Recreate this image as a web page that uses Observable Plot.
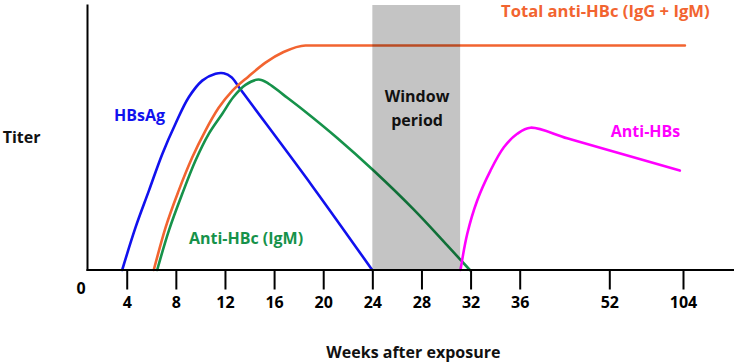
<!DOCTYPE html>
<html>
<head>
<meta charset="utf-8">
<script src="https://cdn.jsdelivr.net/npm/d3@7"></script>
<script src="https://cdn.jsdelivr.net/npm/@observablehq/plot@0.6"></script>
<style>
  html, body { margin: 0; padding: 0; background: #fff; }
  svg { display: block; }
</style>
</head>
<body>
<div id="chart"></div>
<script>
// Tick labels (weeks after exposure)
const xTicks = [4, 8, 12, 16, 20, 24, 28, 32, 36, 52, 104];

// HBsAg
const hbsagWeeks = [3.59, 4.67, 5.76, 6.85, 7.93, 9.01, 10.11, 11.19, 11.86, 12.49, 13.22, 14.31, 19.09, 23.95];
const hbsagTiter = [0, 16.0, 29.9, 43.8, 55.3, 65.3, 71.6, 74.2, 74.4, 72.9, 68.3, 61.5, 31.6, 0];

// Total anti-HBc (IgG + IgM)
const totalWeeks = [6.16, 7.12, 8.20, 9.29, 10.37, 11.46, 12.57, 13.88, 15.26, 16.73, 18.52, 105];
const totalTiter = [0, 16.0, 30.1, 42.5, 52.7, 61.4, 67.8, 73.2, 78.4, 82.4, 84.9, 84.9];

// Anti-HBc (IgM)
const igmWeeks = [6.44, 7.39, 8.48, 9.56, 10.64, 11.73, 12.65, 13.63, 14.69, 15.50, 16.73, 18.38, 21.10, 24.08, 27.34, 30.06, 31.9];
const igmTiter = [0, 14.9, 28.8, 41.4, 51.5, 59.0, 65.4, 70.0, 72.0, 70.5, 66.2, 60.3, 49.9, 37.5, 22.8, 9.3, 0];

// Anti-HBs
const antiHBsWeeks = [31.14, 31.69, 32.5, 33.58, 34.67, 35.76, 37.84, 44.39, 52, 101.4];
const antiHBsTiter = [0, 13.7, 26.3, 37.6, 46.4, 51.5, 53.8, 49.8, 45.2, 37.6];

// Window period
const windowStart = 24;
const windowEnd = 31.15;

const toRows = (ws, ts) => ws.map((w, i) => ({w, t: ts[i]}));

const FONT = "'Open Sans', Lato, sans-serif";
const C = {blue: "#1111ee", orange: "#f26430", green: "#16924a", magenta: "#ff00ff"};

const labels = [
  {w: 5.0,  t: 58.4, text: "HBsAg", color: C.blue, size: 16},
  {w: 13.67, t: 11.6, text: "Anti-HBc (IgM)", color: C.green, size: 16},
  {w: 51.2, t: 97.5, text: "Total anti-HBc (IgG + IgM)", color: C.orange, size: 16.6},
  {w: 77.2, t: 52.1, text: "Anti-HBs", color: C.magenta, size: 16},
  {w: 27.6, t: 65.3, text: "Window", color: "#111", size: 16},
  {w: 27.6, t: 56.3, text: "period", color: "#111", size: 16},
  {w: -4.6, t: 50.0, text: "Titer", color: "#111", size: 16},
  {w: 27.3, t: -31.2, text: "Weeks after exposure", color: "#111", size: 16}
];

const chart = Plot.plot({
  width: 734,
  height: 364,
  marginLeft: 87,
  marginRight: 0,
  marginTop: 5,
  marginBottom: 94.5,
  style: {fontFamily: FONT, background: "#fff"},
  x: {type: "linear", domain: [0, 36, 52, 104], range: [77.6, 519.7, 609.3, 683], axis: null},
  y: {domain: [0, 100], axis: null},
  marks: [
    Plot.line(toRows(hbsagWeeks, hbsagTiter), {x: "w", y: "t", stroke: C.blue, strokeWidth: 2.6, curve: "catmull-rom"}),
    Plot.line(toRows(totalWeeks, totalTiter), {x: "w", y: "t", stroke: C.orange, strokeWidth: 2.6, curve: "monotone-x"}),
    Plot.line(toRows(igmWeeks, igmTiter), {x: "w", y: "t", stroke: C.green, strokeWidth: 2.6, curve: "catmull-rom"}),
    Plot.line(toRows(antiHBsWeeks, antiHBsTiter), {x: "w", y: "t", stroke: C.magenta, strokeWidth: 2.6, curve: "catmull-rom"}),
    Plot.rect([{x1: windowStart, x2: windowEnd, y1: 0, y2: 100}], {x1: "x1", x2: "x2", y1: "y1", y2: "y2", fill: "black", fillOpacity: 0.23}),
    Plot.frame({anchor: "left", stroke: "black", strokeWidth: 2}),
    Plot.frame({anchor: "bottom", stroke: "black", strokeWidth: 2}),
    Plot.axisX(xTicks, {anchor: "bottom", tickSize: 20, tickPadding: 7, strokeWidth: 2, fontSize: 16, fontWeight: "bold", fill: "black", stroke: "black", label: null}),
    Plot.text([0], {x: 0, y: 0, text: ["0"], dx: 3, dy: 19, fontSize: 16, fontWeight: "bold", fill: "black"}),
    Plot.text(labels, {x: "w", y: "t", text: "text", fill: "color", fontSize: "size", fontWeight: "bold"})
  ]
});
document.getElementById("chart").appendChild(chart);
</script>
</body>
</html>
